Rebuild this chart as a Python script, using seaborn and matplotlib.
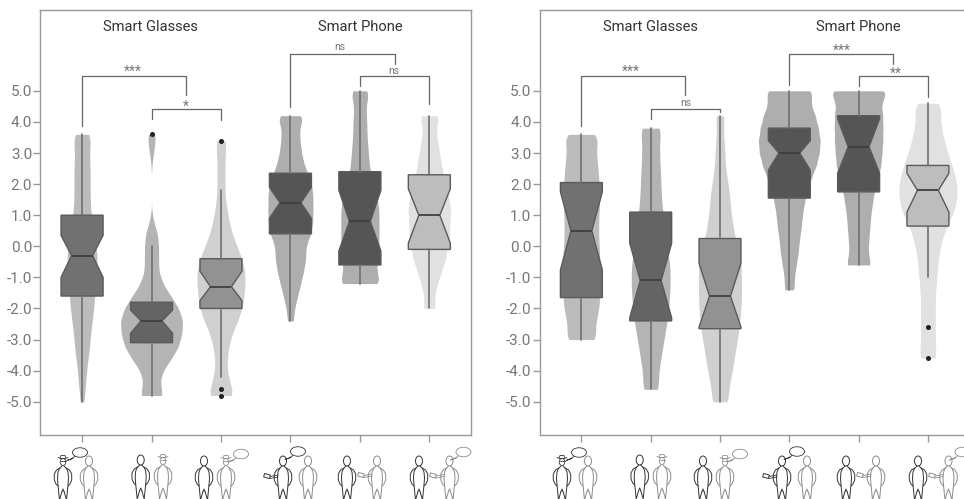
import numpy as np
import pandas as pd
import matplotlib
matplotlib.use("Agg")
import matplotlib.pyplot as plt
from matplotlib.patches import Ellipse, Rectangle
import seaborn as sns

# conditions along the x axis
conditions = ["sg_self", "sg_none", "sg_other", "sp_self", "sp_none", "sp_other"]
y_ticks = [5, 4, 3, 2, 1, 0, -1, -2, -3, -4, -5]
y_tick_labels = ["5.0", "4.0", "3.0", "2.0", "1.0", "0.0", "-1.0", "-2.0", "-3.0", "-4.0", "-5.0"]

violin_colors = ["#bcbcbc", "#b4b4b4", "#d0d0d0", "#aeaeae", "#aeaeae", "#e1e1e1"]
box_colors = ["#717171", "#646464", "#929292", "#555555", "#555555", "#bdbdbd"]

# left panel: answer levels and how many answers sit at each
left_levels = [
    [-5.0, -4.6, -4.2, -3.8, -3.4, -3.0, -2.6, -2.2, -1.8, -1.4, -1.0, -0.6, -0.2, 0.2, 0.6, 1.0, 1.4, 1.8, 2.2, 2.6, 3.0, 3.4, 3.6],
    [-4.8, -4.4, -4.0, -3.6, -3.2, -2.8, -2.4, -2.0, -1.6, -1.2, -0.8, -0.4, 0.0, 0.4, 0.8, 1.2, 1.6, 2.0, 2.4, 2.8, 3.2, 3.6],
    [-4.8, -4.4, -4.0, -3.6, -3.2, -2.8, -2.4, -2.0, -1.6, -1.2, -0.8, -0.4, 0.0, 0.4, 0.8, 1.2, 1.6, 2.0, 2.4, 2.8, 3.2, 3.4],
    [-2.4, -2.0, -1.6, -1.2, -0.8, -0.4, 0.0, 0.4, 0.8, 1.2, 1.6, 2.0, 2.4, 2.8, 3.2, 3.6, 4.0, 4.2],
    [-1.2, -0.8, -0.4, 0.0, 0.4, 0.8, 1.2, 1.6, 2.0, 2.4, 2.8, 3.2, 3.6, 4.0, 4.4, 4.8, 5.0],
    [-2.0, -1.6, -1.2, -0.8, -0.4, 0.0, 0.4, 0.8, 1.2, 1.6, 2.0, 2.4, 2.8, 3.2, 3.6, 4.0, 4.2],
]
left_counts = [
    [2, 3, 4, 5, 7, 8, 9, 11, 12, 13, 14, 15, 15, 13, 11, 9, 8, 8, 8, 8, 7, 7, 6],
    [12, 8, 11, 20, 27, 30, 31, 27, 19, 11, 7, 7, 7, 6, 2, 0, 0, 0, 0, 1, 3, 4],
    [14, 9, 6, 6, 8, 11, 17, 21, 23, 24, 24, 21, 16, 11, 8, 6, 4, 4, 4, 4, 4, 3],
    [3, 4, 7, 10, 13, 15, 15, 20, 22, 22, 22, 21, 16, 12, 10, 9, 8, 8],
    [22, 16, 18, 19, 19, 19, 19, 17, 14, 10, 9, 8, 7, 7, 6, 6, 6],
    [6, 5, 8, 12, 16, 18, 20, 20, 21, 19, 16, 13, 11, 9, 7, 6, 6],
]
left_widths = [0.43, 0.89, 0.69, 0.65, 0.55, 0.61]

# right panel
right_levels = [
    [-3.0, -2.6, -2.2, -1.8, -1.4, -1.0, -0.6, -0.2, 0.2, 0.6, 1.0, 1.4, 1.8, 2.2, 2.6, 3.0, 3.4, 3.6],
    [-4.6, -4.2, -3.8, -3.4, -3.0, -2.6, -2.2, -1.8, -1.4, -1.0, -0.6, -0.2, 0.2, 0.6, 1.0, 1.4, 1.8, 2.2, 2.6, 3.0, 3.4, 3.8],
    [-5.0, -4.6, -4.2, -3.8, -3.4, -3.0, -2.6, -2.2, -1.8, -1.4, -1.0, -0.6, -0.2, 0.2, 0.6, 1.0, 1.4, 1.8, 2.2, 2.6, 3.0, 3.4, 3.8, 4.2],
    [-1.4, -1.0, -0.6, -0.2, 0.2, 0.6, 1.0, 1.4, 1.8, 2.2, 2.6, 3.0, 3.4, 3.8, 4.2, 4.6, 5.0],
    [-0.6, -0.2, 0.2, 0.6, 1.0, 1.4, 1.8, 2.2, 2.6, 3.0, 3.4, 3.8, 4.2, 4.6, 5.0],
    [-3.6, -3.2, -2.8, -2.4, -2.0, -1.6, -1.2, -0.8, -0.4, 0.0, 0.4, 0.8, 1.2, 1.6, 2.0, 2.4, 2.8, 3.2, 3.6, 4.0, 4.4, 4.6],
]
right_counts = [
    [16, 13, 16, 18, 18, 18, 18, 18, 17, 17, 17, 18, 18, 17, 16, 15, 12, 11],
    [9, 7, 9, 11, 13, 15, 17, 18, 19, 19, 19, 17, 15, 14, 12, 11, 10, 10, 9, 9, 8, 12],
    [9, 8, 11, 13, 15, 17, 19, 20, 21, 21, 21, 21, 19, 15, 13, 11, 10, 9, 7, 5, 5, 4, 3, 5],
    [5, 5, 7, 9, 10, 12, 13, 15, 18, 22, 27, 30, 31, 29, 26, 21, 24],
    [14, 10, 11, 12, 13, 15, 17, 21, 24, 25, 26, 26, 26, 24, 32],
    [9, 7, 7, 7, 7, 7, 8, 9, 10, 12, 15, 20, 26, 28, 28, 25, 21, 17, 14, 12, 10, 8],
]
right_widths = [0.53, 0.56, 0.62, 0.89, 0.75, 0.84]

# box summaries: q1, median, q3, notch low, notch high, whisker low, whisker high, outliers
left_q1 = [-1.6, -3.1, -2.0, 0.4, -0.6, -0.1]
left_med = [-0.3, -2.4, -1.3, 1.4, 0.8, 1.0]
left_q3 = [1.0, -1.8, -0.4, 2.35, 2.4, 2.3]
left_cilo = [-1.0, -2.8, -1.75, 0.9, -0.15, 0.1]
left_cihi = [0.35, -2.05, -0.8, 1.9, 1.8, 1.85]
left_wlo = [-5.0, -4.8, -4.2, -2.4, -1.2, -2.0]
left_whi = [3.6, 0.0, 1.8, 4.2, 5.0, 4.2]
left_fliers = [[], [3.6], [3.4, -4.6, -4.8], [], [], []]

right_q1 = [-1.65, -2.4, -2.65, 1.55, 1.75, 0.65]
right_med = [0.5, -1.1, -1.6, 3.0, 3.2, 1.8]
right_q3 = [2.05, 1.1, 0.25, 3.8, 4.2, 2.6]
right_cilo = [-0.76, -2.3, -2.6, 2.45, 2.35, 1.1]
right_cihi = [1.75, 0.1, -0.55, 3.4, 4.1, 2.35]
right_wlo = [-3.0, -4.6, -5.0, -1.4, -0.6, -1.0]
right_whi = [3.6, 3.8, 4.2, 5.0, 5.0, 4.6]
right_fliers = [[], [], [], [], [], [-2.6, -3.6]]

# significance brackets: x start, x end, foot start, foot end, top, label, label x, label y
left_brackets = [
    (0, 1.5, 3.87, 4.87, 5.47, "***", 0.73, 5.62),
    (1, 2, 4.1, 4.07, 4.42, "*", 1.5, 4.5),
    (3, 4.5, 4.47, 5.87, 6.18, "ns", 3.71, 6.4),
    (4, 5, 5.14, 4.58, 5.47, "ns", 4.49, 5.65),
]
right_brackets = [
    (0, 1.5, 3.87, 4.87, 5.47, "***", 0.72, 5.62),
    (1, 2, 4.1, 4.33, 4.42, "ns", 1.5, 4.6),
    (3, 4.5, 5.19, 5.87, 6.18, "***", 3.76, 6.3),
    (4, 5, 5.14, 4.8, 5.47, "**", 4.53, 5.55),
]

group_titles = ["Smart Glasses", "Smart Phone"]

sns.set_theme(style="white")
plt.rcParams["font.family"] = ["Roboto", "DejaVu Sans"]


def draw_panel(ax, levels, counts, widths, q1, med, q3, cilo, cihi, wlo, whi, fliers, brackets):
    # one call per violin, each one has its own peak width in the original
    for i in range(len(conditions)):
        scores = np.repeat(levels[i], counts[i])
        df = pd.DataFrame({"position": i, "score": scores})
        sns.violinplot(data=df, x="position", y="score", native_scale=True, color=violin_colors[i],
                       density_norm="width", cut=0, inner=None, linewidth=0, saturation=1,
                       width=widths[i], bw_adjust=0.42, gridsize=400, ax=ax)

    stats = []
    for i in range(len(conditions)):
        stats.append({"q1": q1[i], "med": med[i], "q3": q3[i], "cilo": cilo[i], "cihi": cihi[i],
                      "whislo": wlo[i], "whishi": whi[i], "fliers": fliers[i]})
    parts = ax.bxp(stats, positions=range(len(conditions)), widths=0.605, shownotches=True,
                   showcaps=False, patch_artist=True, manage_ticks=False,
                   whiskerprops={"color": "#707070", "linewidth": 1.2},
                   medianprops={"color": "#3f3f3f", "linewidth": 1.3},
                   boxprops={"edgecolor": "#5a5a5a", "linewidth": 1.0},
                   flierprops={"marker": "o", "markersize": 2.6, "markerfacecolor": "#222222",
                               "markeredgecolor": "#222222"})
    for box, col in zip(parts["boxes"], box_colors):
        box.set_facecolor(col)

    for x0, x1, foot0, foot1, top, label, lx, ly in brackets:
        ax.plot([x0, x0, x1, x1], [foot0, top, top, foot1], color="#666666", lw=0.9)
        size = 7.5 if label == "ns" else 10
        ax.text(lx, ly, label, ha="center", va="center", fontsize=size, color="#777777")

    ax.text(0.99, 7.06, group_titles[0], ha="center", va="center", fontsize=10.6, color="#333333")
    ax.text(4.0, 7.06, group_titles[1], ha="center", va="center", fontsize=10.6, color="#333333")

    ax.set_xlim(-0.6, 5.6)
    ax.set_ylim(-6.07, 7.6)
    ax.set_xticks(range(len(conditions)))
    ax.set_xticklabels([""] * len(conditions))
    ax.set_yticks(y_ticks)
    ax.set_yticklabels(y_tick_labels)
    ax.set_xlabel("")
    ax.set_ylabel("")
    ax.tick_params(axis="both", length=5, width=1, color="#999999", labelcolor="#777777",
                   labelsize=11, left=True, bottom=True, pad=1)
    for side in ax.spines.values():
        side.set_color("#999999")
        side.set_linewidth(1.0)


def person(pic, x, y, col, hat=False):
    # little outlined figure, y is the head centre, pixels
    if hat:
        pic.add_patch(Ellipse((x, y + 1), 5.5, 7, fill=False, ec=col, lw=0.6))
        pic.plot([x - 5, x - 2.5, x + 2.5, x + 5], [y - 3.5, y - 2.5, y - 2.5, y - 3.5], color=col, lw=0.6)
        pic.plot([x - 3, x - 2, x + 2, x + 3], [y - 3, y - 5.5, y - 5.5, y - 3], color=col, lw=0.6)
        pic.plot([x - 2.5, x + 2.5], [y, y], color=col, lw=0.6)
    else:
        pic.add_patch(Ellipse((x, y), 7, 10, fill=False, ec=col, lw=0.7))
    for s in (-1, 1):
        torso_u = [1, 3.5, 5, 5.5, 5, 4.2, 3.5, 1.2]
        torso_v = [5, 7.5, 11, 17, 24, 32, 39, 31]
        pic.plot([x + s * u for u in torso_u], [y + v for v in torso_v], color=col, lw=0.7)
        arm_u = [3, 6.5, 8.7, 8.7, 7, 5]
        arm_v = [7, 9, 13, 19, 23, 25]
        pic.plot([x + s * u for u in arm_u], [y + v for v in arm_v], color=col, lw=0.7)
    pic.plot([x - 1.2, x, x + 1.2], [y + 31, y + 28, y + 31], color=col, lw=0.7)


def bubble(pic, x, y, col):
    pic.add_patch(Ellipse((x, y), 15, 9.5, fill=False, ec=col, lw=0.6))
    pic.plot([x - 5, x - 9, x - 13, x - 7], [y + 4, y + 6.5, y + 8, y + 6], color=col, lw=0.6)


def phone(pic, x, y, hand_x, col):
    pic.add_patch(Rectangle((x - 3, y - 1.8), 6, 3.6, angle=15, rotation_point="center",
                            fill=False, ec=col, lw=0.7))
    pic.plot([x + np.sign(hand_x - x) * 3, hand_x], [y + 0.5, y - 1], color=col, lw=0.6)
    pic.plot([x + np.sign(hand_x - x) * 3, hand_x], [y + 2.5, y + 1], color=col, lw=0.6)


def draw_icons(pic, dx):
    dark, light = "#333333", "#8c8c8c"
    person(pic, 63 + dx, 461, dark, hat=True)
    person(pic, 89 + dx, 461, light)
    bubble(pic, 80 + dx, 452.5, dark)

    person(pic, 140.7 + dx, 460, dark)
    person(pic, 163 + dx, 460, light, hat=True)

    person(pic, 204 + dx, 461, dark)
    person(pic, 226 + dx, 461, light, hat=True)
    bubble(pic, 241 + dx, 454, light)

    person(pic, 283 + dx, 461, dark)
    person(pic, 308 + dx, 461, light)
    bubble(pic, 298 + dx, 451.5, dark)
    phone(pic, 267 + dx, 476, 278 + dx, dark)

    person(pic, 347 + dx, 461, dark)
    person(pic, 377 + dx, 461, light)
    phone(pic, 361 + dx, 475, 372 + dx, light)

    person(pic, 419 + dx, 461, dark)
    person(pic, 449.5 + dx, 461, light)
    bubble(pic, 463.5 + dx, 452, light)
    phone(pic, 433 + dx, 475.5, 444 + dx, light)


W, H = 964, 499
fig = plt.figure(figsize=(W / 100, H / 100), dpi=100)
# ticks sat about a pixel right of the reference, so the axes start slightly further left
ax_left = fig.add_axes([40.4 / W, (H - 435) / H, 430.6 / W, 425 / H])
ax_right = fig.add_axes([539.8 / W, (H - 435) / H, 429.7 / W, 425 / H])

draw_panel(ax_left, left_levels, left_counts, left_widths, left_q1, left_med, left_q3, left_cilo,
           left_cihi, left_wlo, left_whi, left_fliers, left_brackets)
draw_panel(ax_right, right_levels, right_counts, right_widths, right_q1, right_med, right_q3, right_cilo,
           right_cihi, right_wlo, right_whi, right_fliers, right_brackets)

icons = fig.add_axes([0, 0, 1, 1], facecolor="none")
icons.set_xlim(0, W)
icons.set_ylim(H, 0)
icons.axis("off")
draw_icons(icons, 0)
draw_icons(icons, 499)

fig.savefig("out.png", dpi=100)
